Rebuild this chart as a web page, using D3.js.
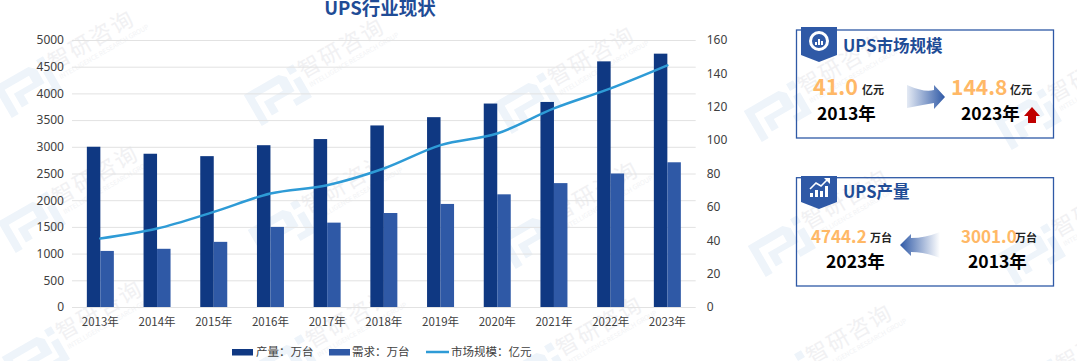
<!DOCTYPE html>
<html>
<head>
<meta charset="utf-8">
<script src="https://cdn.jsdelivr.net/npm/d3@7"></script>
<style>
  html, body { margin: 0; padding: 0; background: #fff; }
  svg { display: block; font-family: "Noto Sans CJK SC", "Noto Sans", sans-serif; }
</style>
</head>
<body>
<div id="chart"></div>
<script>
const years = ["2013年", "2014年", "2015年", "2016年", "2017年", "2018年", "2019年", "2020年", "2021年", "2022年", "2023年"];
const production = [3001.0, 2870, 2825, 3030, 3145, 3400, 3555, 3810, 3840, 4600, 4744.2];
const demand = [1050, 1090, 1220, 1500, 1580, 1760, 1930, 2110, 2320, 2500, 2710];
const marketSize = [41.0, 47, 57, 68, 73, 83, 97, 104, 119, 131, 144.8];
const leftTicks = [0, 500, 1000, 1500, 2000, 2500, 3000, 3500, 4000, 4500, 5000];
const rightTicks = [0, 20, 40, 60, 80, 100, 120, 140, 160];
const seriesNames = ["产量：万台", "需求：万台", "市场规模：亿元"];

const width = 1077, height = 361;
const plotLeft = 72, plotRight = 695.7, plotTop = 40, plotBottom = 307;
const darkBlue = "#0f3882", midBlue = "#2f59a6", lineBlue = "#2e9bd6", orange = "#ffb866";

const svg = d3.select("#chart").append("svg")
  .attr("width", width)
  .attr("height", height)
  .attr("viewBox", [0, 0, width, height]);

const defs = svg.append("defs");
function arrowGradient(id, x1, x2, from) {
  const g = defs.append("linearGradient").attr("id", id)
    .attr("x1", x1).attr("x2", x2).attr("y1", 0).attr("y2", 0);
  g.append("stop").attr("offset", 0).attr("stop-color", from);
  g.append("stop").attr("offset", 1).attr("stop-color", midBlue);
}
arrowGradient("arrowRight", 0, 1, "#e4eaf4");
arrowGradient("arrowLeft", 1, 0, "#fff");

// watermark tiles, they sit on a slightly tilted grid
const wm = svg.append("g");
for (let c = 0; c < 5; c++) {
  for (let r = 0; r < 3; r++) {
    const tile = wm.append("g")
      .attr("transform", `translate(${25 + 250 * c + 4 * r},${85 + 8 * c + 135 * r}) rotate(-30)`);
    tile.append("path")
      .attr("d", "M-28,-14H12L18,-8V8H-6V18H-14V2H8V-6H-20V22H-28Z M22,-16h8v8h-8Z M22,-2h8V22H12v-7h10Z")
      .attr("fill", "#eef4fa");
    tile.append("text")
      .attr("x", 32).attr("y", 2)
      .attr("font-size", 22)
      .attr("letter-spacing", 2)
      .attr("fill", "#f1f1f3")
      .text("智研咨询");
    tile.append("text")
      .attr("x", 34).attr("y", 13)
      .attr("font-size", 6.5)
      .attr("fill", "#f2f3f5")
      .text("INTELLIGENCE RESEARCH GROUP");
  }
}

const x = d3.scaleBand().domain(years).range([plotLeft, plotRight]);
const inner = d3.scaleBand().domain([0, 1]).range([x.bandwidth() / 2 - 13.5, x.bandwidth() / 2 + 13.5]);
const yLeft = d3.scaleLinear().domain([0, 5000]).range([plotBottom, plotTop]);
const yRight = d3.scaleLinear().domain([0, 160]).range([plotBottom, plotTop]);

function styleAxis(g) {
  g.select(".domain").remove();
  g.selectAll("text").attr("fill", "#404040").attr("font-size", 12)
    .attr("font-family", '"Noto Sans", sans-serif');
}

svg.append("g")
  .attr("transform", `translate(${plotLeft},0)`)
  .call(d3.axisLeft(yLeft).tickValues(leftTicks).tickSize(-(plotRight - plotLeft)).tickPadding(8).tickFormat(d => d))
  .call(styleAxis)
  .call(g => g.selectAll("line").attr("stroke", "#e2e2e2").attr("stroke-width", 1));

svg.append("g")
  .attr("transform", `translate(${plotRight},0)`)
  .call(d3.axisRight(yRight).tickValues(rightTicks).tickSize(0).tickPadding(11).tickFormat(d => d))
  .call(styleAxis);

svg.append("g")
  .attr("transform", `translate(0,${plotBottom})`)
  .call(d3.axisBottom(x).tickSize(0).tickPadding(11))
  .call(styleAxis)
  .call(g => g.selectAll("text").attr("font-size", 11.5).attr("font-family", '"Noto Sans CJK SC", sans-serif'));

[[production, darkBlue], [demand, midBlue]].forEach(([values, color], s) => {
  svg.append("g")
    .selectAll("rect")
    .data(values)
    .join("rect")
    .attr("x", (d, i) => x(years[i]) + inner(s))
    .attr("y", d => yLeft(d))
    .attr("width", inner.bandwidth())
    .attr("height", d => plotBottom - yLeft(d))
    .attr("fill", color);
});

const line = d3.line()
  .x((d, i) => x(years[i]) + x.bandwidth() / 2)
  .y(d => yRight(d))
  .curve(d3.curveMonotoneX);

svg.append("path")
  .datum(marketSize)
  .attr("d", line)
  .attr("fill", "none")
  .attr("stroke", lineBlue)
  .attr("stroke-width", 2.5)
  .attr("stroke-linecap", "round");

svg.append("text")
  .attr("x", 380).attr("y", 15)
  .attr("text-anchor", "middle")
  .attr("font-size", 18.5)
  .attr("font-weight", 700)
  .attr("fill", "#1f4c96")
  .text("UPS行业现状");

// legend
const legend = svg.append("g").attr("font-size", 11.5).attr("fill", "#404040");
legend.append("rect").attr("x", 232).attr("y", 349).attr("width", 21).attr("height", 6.5).attr("fill", darkBlue);
legend.append("text").attr("x", 256).attr("y", 356).text(seriesNames[0]);
legend.append("rect").attr("x", 329).attr("y", 349).attr("width", 21).attr("height", 6.5).attr("fill", midBlue);
legend.append("text").attr("x", 352).attr("y", 356).text(seriesNames[1]);
legend.append("line").attr("x1", 426).attr("x2", 449).attr("y1", 352).attr("y2", 352)
  .attr("stroke", lineBlue).attr("stroke-width", 2.5);
legend.append("text").attr("x", 451).attr("y", 356).text(seriesNames[2]);

// side cards
function label(g, px, py, size, weight, color, str) {
  g.append("text")
    .attr("x", px).attr("y", py)
    .attr("font-size", size)
    .attr("font-weight", weight)
    .attr("fill", color)
    .text(str);
}

function card(y0, h, title, badgeTop, sideBottom, tip) {
  const g = svg.append("g");
  g.append("rect")
    .attr("x", 796.5).attr("y", y0)
    .attr("width", 257).attr("height", h)
    .attr("fill", "none")
    .attr("stroke", midBlue)
    .attr("stroke-width", 1.3);
  g.append("path")
    .attr("d", `M801,${badgeTop}H837V${sideBottom}L819,${tip}L801,${sideBottom}Z`)
    .attr("fill", midBlue);
  label(g, 843, sideBottom - 3 - (y0 > 100 ? 1 : 0), 16.5, 700, "#1f4c96", title);
  return g;
}

const c1 = card(30, 108, "UPS市场规模", 27, 55, 62);
c1.append("circle").attr("cx", 819).attr("cy", 41).attr("r", 8.5)
  .attr("fill", "none").attr("stroke", "#fff").attr("stroke-width", 3);
c1.append("path").attr("d", "M815,45v-3h2v3Zm3,0v-6h2v6Zm3,0v-4h2v4Z").attr("fill", "#fff");
label(c1, 813, 95, 21.5, 700, orange, marketSize[0].toFixed(1));
label(c1, 862, 94, 11, 700, "#222", "亿元");
label(c1, 817, 120, 17.5, 700, "#000", years[0]);
label(c1, 951, 95, 21, 700, orange, marketSize[10].toFixed(1));
label(c1, 1010, 94, 11, 700, "#222", "亿元");
label(c1, 961, 120, 17.5, 700, "#000", years[10]);
c1.append("path").attr("d", "M1032,107L1040,116H1036V123H1028V116H1024Z").attr("fill", "#c00000");
c1.append("path")
  .attr("d", "M907,85Q925,93 934,90V85L945,97L934,109V103Q922,105 907,108Z")
  .attr("fill", "url(#arrowRight)");

const c2 = card(177.7, 108.3, "UPS产量", 176, 202, 209);
c2.append("path").attr("d", "M810,197v-4h3v4Zm5,0v-7h3v7Zm5,0v-6h3v6Zm5,0v-11h3v11Z").attr("fill", "#fff");
c2.append("path").attr("d", "M810,189L816,183L821,186L827,180").attr("fill", "none").attr("stroke", "#fff").attr("stroke-width", 1.6);
c2.append("path").attr("d", "M824,178H830V184Z").attr("fill", "#fff");
label(c2, 811, 243, 17, 700, orange, production[10].toFixed(1));
label(c2, 870, 242, 11, 700, "#222", "万台");
label(c2, 826, 268, 17.5, 700, "#000", years[10]);
label(c2, 961, 243, 17, 700, orange, production[0].toFixed(1));
label(c2, 1015, 242, 11, 700, "#222", "万台");
label(c2, 968, 268, 17.5, 700, "#000", years[0]);
c2.append("path")
  .attr("d", "M940,232Q925,238 911,238V234L900,245L911,256V252Q925,252 940,258Z")
  .attr("fill", "url(#arrowLeft)");
</script>
</body>
</html>
